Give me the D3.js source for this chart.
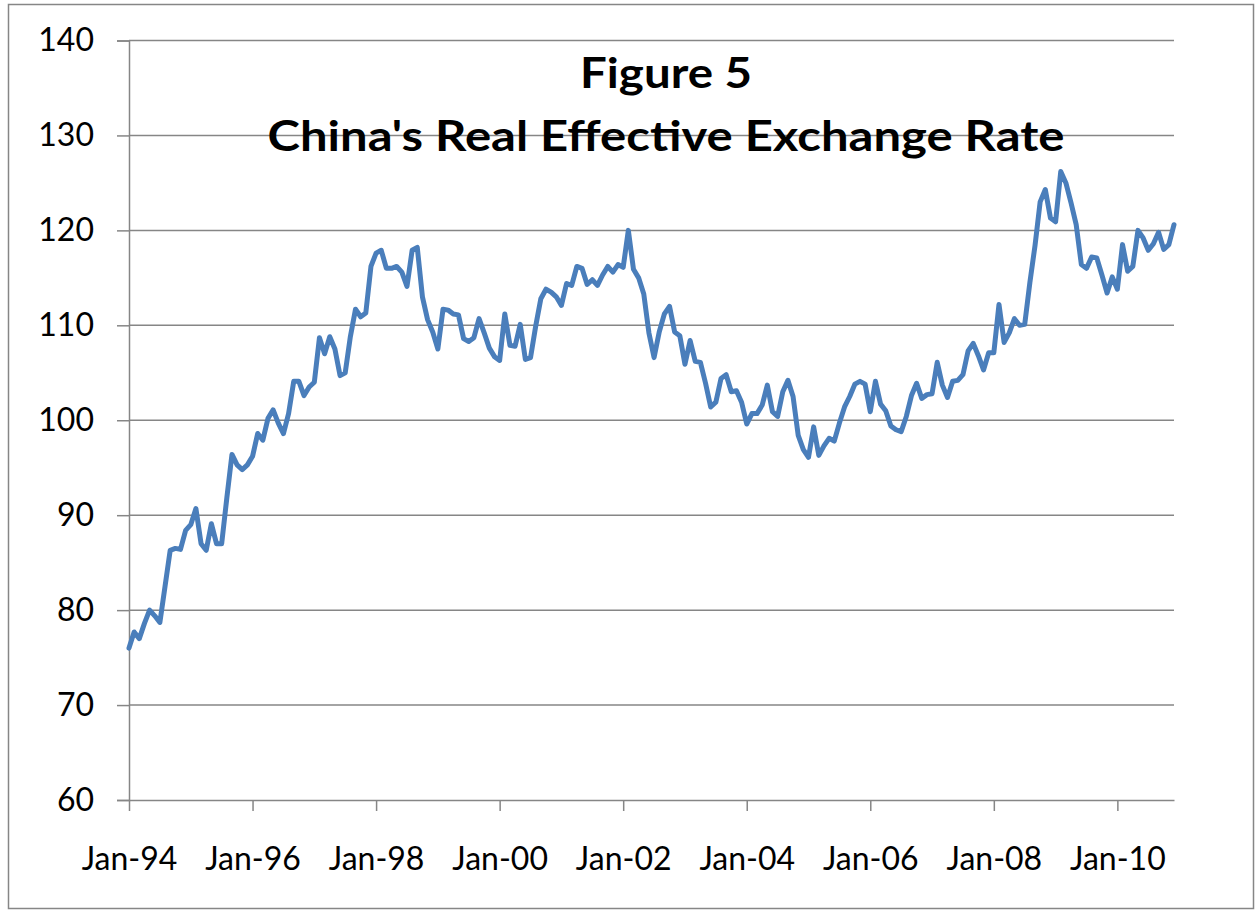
<!DOCTYPE html>
<html>
<head>
<meta charset="utf-8">
<script src="https://cdn.jsdelivr.net/npm/d3@7/dist/d3.min.js"></script>
<style>
  html, body { margin: 0; padding: 0; background: #ffffff; }
  svg { display: block; }
</style>
</head>
<body>
<svg id="chart" width="1257" height="913"></svg>
<script>
// ---- data ----
const monthNames = ["Jan","Feb","Mar","Apr","May","Jun","Jul","Aug","Sep","Oct","Nov","Dec"];
const yearLabels = ["94","95","96","97","98","99","00","01","02","03","04","05","06","07","08","09","10"];
const categories = [];
yearLabels.forEach(y => monthNames.forEach(m => categories.push(m + "-" + y)));

const reerValues = [
  76.0, 77.7, 77.0, 78.6, 80.0, 79.4, 78.7, 82.5, 86.3, 86.5, 86.4, 88.4,
  89.0, 90.7, 87.0, 86.3, 89.1, 87.0, 87.0, 91.8, 96.4, 95.3, 94.8, 95.3,
  96.2, 98.6, 97.9, 100.2, 101.1, 99.7, 98.6, 100.7, 104.1, 104.1, 102.6, 103.5,
  104.0, 108.7, 107.0, 108.8, 107.5, 104.7, 105.0, 108.8, 111.7, 110.9, 111.3, 116.2,
  117.6, 117.9, 116.0, 116.0, 116.2, 115.6, 114.1, 117.9, 118.2, 113.0, 110.6, 109.3,
  107.5, 111.7, 111.6, 111.2, 111.1, 108.6, 108.3, 108.7, 110.7, 109.2, 107.6, 106.7,
  106.3, 111.2, 107.9, 107.8, 110.1, 106.4, 106.6, 109.9, 112.8, 113.8, 113.5, 113.0,
  112.1, 114.4, 114.2, 116.2, 116.0, 114.3, 114.8, 114.2, 115.3, 116.2, 115.6, 116.4,
  116.1, 120.0, 115.9, 115.0, 113.3, 109.2, 106.6, 109.3, 111.2, 112.0, 109.3, 108.9,
  105.9, 108.4, 106.2, 106.1, 103.9, 101.4, 101.9, 104.4, 104.8, 103.0, 103.1, 101.9,
  99.6, 100.7, 100.7, 101.6, 103.7, 100.9, 100.4, 103.0, 104.2, 102.5, 98.4, 96.9,
  96.1, 99.3, 96.3, 97.3, 98.1, 97.8, 99.7, 101.4, 102.5, 103.8, 104.1, 103.8,
  100.9, 104.1, 101.7, 101.0, 99.4, 99.0, 98.8, 100.4, 102.6, 103.9, 102.3, 102.7,
  102.8, 106.1, 103.7, 102.4, 104.1, 104.2, 104.8, 107.3, 108.1, 106.8, 105.3, 107.1,
  107.1, 112.2, 108.2, 109.2, 110.7, 110.0, 110.1, 114.5, 118.4, 123.0, 124.3, 121.3,
  120.9, 126.2, 125.0, 122.9, 120.6, 116.4, 116.0, 117.2, 117.1, 115.3, 113.4, 115.1,
  113.8, 118.5, 115.7, 116.2, 120.0, 119.2, 117.9, 118.6, 119.8, 118.0, 118.5, 120.6
];

const xTickLabels = ["Jan-94","Jan-96","Jan-98","Jan-00","Jan-02","Jan-04","Jan-06","Jan-08","Jan-10"];
const yTickValues = [60, 70, 80, 90, 100, 110, 120, 130, 140];
const titleLines = ["Figure 5", "China's Real Effective Exchange Rate"];

// ---- layout ----
const svg = d3.select("#chart");
const plot = { left: 129, right: 1174, top: 40.5, bottom: 800 };
const gridColor = "#868686";
const lineColor = "#4A7EBB";
const font = "Lato, 'Open Sans', sans-serif";

// outer frame
svg.append("rect")
  .attr("x", 8.5).attr("y", 4.5)
  .attr("width", 1245).attr("height", 904)
  .attr("fill", "#ffffff")
  .attr("stroke", gridColor).attr("stroke-width", 1.5);

const x = d3.scalePoint().domain(categories).range([plot.left, plot.right]).padding(0);
const y = d3.scaleLinear().domain([60, 140]).range([plot.bottom, plot.top]);

// gridlines
svg.append("g")
  .selectAll("line")
  .data(yTickValues.filter(v => v > 60))
  .join("line")
  .attr("x1", plot.left).attr("x2", plot.right)
  .attr("y1", d => y(d)).attr("y2", d => y(d))
  .attr("stroke", gridColor).attr("stroke-width", 1.5);

// y axis
const yAxis = svg.append("g")
  .attr("transform", `translate(${plot.left},0)`)
  .call(d3.axisLeft(y).tickValues(yTickValues).tickSize(12).tickPadding(23).tickFormat(d3.format("d")));
yAxis.select(".domain").attr("stroke", gridColor).attr("stroke-width", 1.5);
yAxis.selectAll(".tick line").attr("stroke", gridColor).attr("stroke-width", 1.5);
yAxis.selectAll(".tick text")
  .attr("fill", "#000").attr("font-family", font).attr("font-size", 32);

// x axis
const xAxis = svg.append("g")
  .attr("transform", `translate(0,${plot.bottom})`)
  .call(d3.axisBottom(x).tickValues(xTickLabels).tickSize(11).tickPadding(36).tickSizeOuter(0));
xAxis.select(".domain").attr("stroke", gridColor).attr("stroke-width", 1.5);
xAxis.selectAll(".tick line").attr("stroke", gridColor).attr("stroke-width", 1.5);
xAxis.selectAll(".tick text")
  .attr("fill", "#000").attr("font-family", font).attr("font-size", 32);

// the series line
const line = d3.line()
  .x((d, i) => x(categories[i]))
  .y(d => y(d));

svg.append("path")
  .datum(reerValues)
  .attr("d", line)
  .attr("fill", "none")
  .attr("stroke", lineColor)
  .attr("stroke-width", 5)
  .attr("stroke-linejoin", "round")
  .attr("stroke-linecap", "round");

// title
const titleG = svg.append("g")
  .attr("font-family", font)
  .attr("font-weight", "bold")
  .attr("font-size", 42)
  .attr("fill", "#000")
  .attr("text-anchor", "middle");
titleG.append("text").attr("x", 666).attr("y", 88).text(titleLines[0])
  .attr("textLength", 172).attr("lengthAdjust", "spacingAndGlyphs");
titleG.append("text").attr("x", 666).attr("y", 151).text(titleLines[1])
  .attr("textLength", 797).attr("lengthAdjust", "spacingAndGlyphs");
</script>
</body>
</html>
